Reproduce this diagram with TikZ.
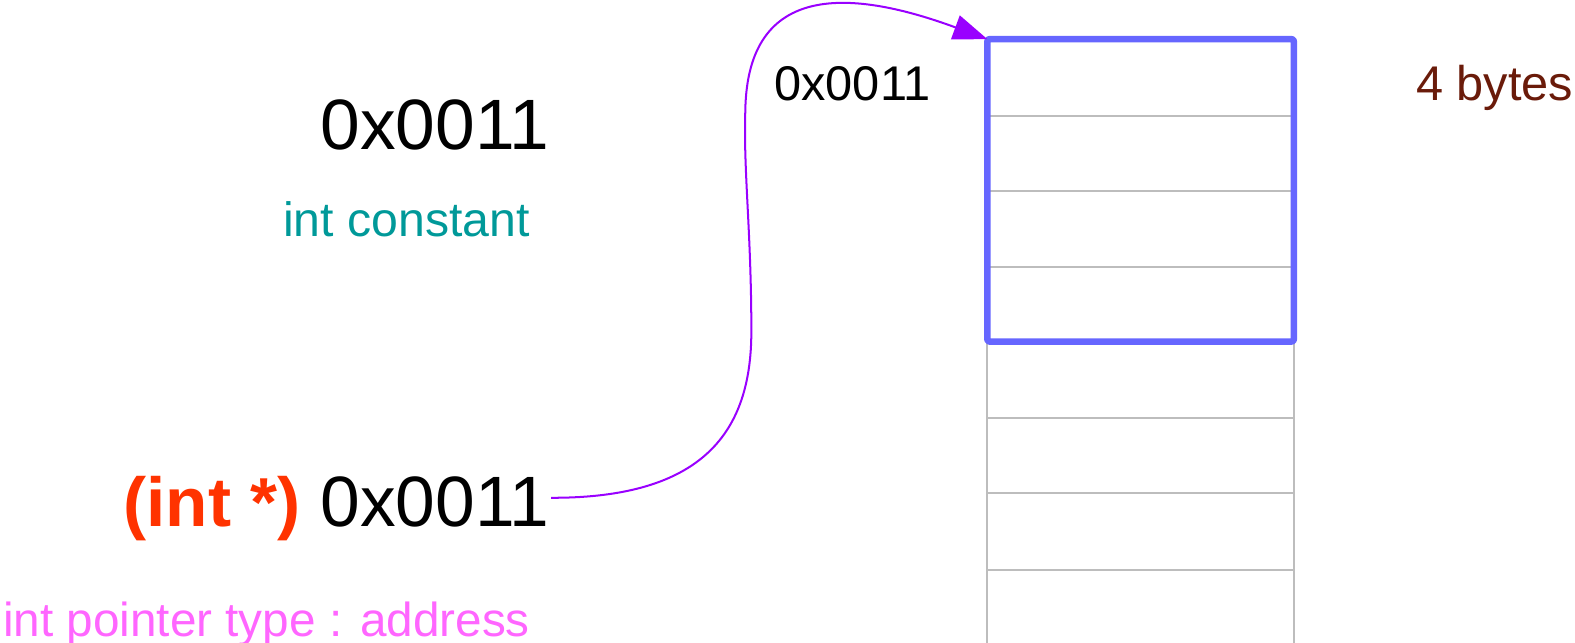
\documentclass[tikz,border=0pt]{standalone}
\usepackage{fontspec}
\setmainfont{Liberation Sans}
\usetikzlibrary{arrows.meta}
\definecolor{castred}{HTML}{FF3300}
\definecolor{tealc}{HTML}{009999}
\definecolor{pinkc}{HTML}{FF66FF}
\definecolor{brownc}{HTML}{6A1B0A}
\definecolor{purplec}{HTML}{9900FF}
\definecolor{bluec}{HTML}{6666FF}
\definecolor{gridc}{HTML}{BDBDBD}
\tikzset{
  txt/.style={inner sep=0pt, outer sep=0pt, anchor=base west},
  big/.style={txt, font=\fontsize{71}{84}\selectfont},
  mid/.style={txt, font=\fontsize{48}{58}\selectfont},
  cell/.style={draw=gridc, line width=2pt},
  ptrarrow/.style={draw=purplec, line width=2pt, -{Triangle[length=34pt,width=25pt]}},
  membox/.style={draw=bluec, line width=6.5pt, line join=round, rounded corners=2pt,
    inner sep=0pt, outer sep=0pt,
    minimum width=305pt, minimum height=301pt, anchor=north west}
}
\begin{document}
\begin{tikzpicture}[x=1pt,y=-1pt]
\useasboundingbox (0,0) rectangle (1568,640);
% lower memory cells
\draw[cell] (983,650) -- (983,341) -- (1288,341) -- (1288,650);
\draw[cell] (983,416) -- (1288,416);
\draw[cell] (983,491) -- (1288,491);
\draw[cell] (983,567) -- (1288,567);
% upper cells (inside the 4-byte block)
\draw[cell] (983,115) -- (1288,115);
\draw[cell] (983,190) -- (1288,190);
\draw[cell] (983,266) -- (1288,266);
% 4-byte block
\node[membox] (mem) at (983,39) {};
% texts
\node[big] (const) at (319,149) {0x0011};
\node[mid, text=tealc] (constlbl) at (282,235) {int constant};
\node[big, text=castred, font=\fontsize{69}{84}\selectfont\bfseries] (cast) at (123,524) {(int *)};
\node[big] (ptrval) at (319,524) {0x0011};
\node[mid, text=pinkc, font=\fontsize{47.5}{58}\selectfont] (ptrlbl) at (3,634) {int pointer type : address};
\node[mid, font=\fontsize{48.5}{58}\selectfont] (addr) at (771,100) {0x0011};
\node[mid, text=brownc, font=\fontsize{48.5}{58}\selectfont] (bytes) at (1410,100) {4 bytes};
% pointer arrow
\draw[ptrarrow] ([xshift=2pt,yshift=4pt]ptrval.east)
  .. controls (700,496) and (748,430) .. (748,330)
  .. controls (748,230) and (740,170) .. (742,110)
  .. controls (744,-20) and (850,-10) .. (mem.north west);
\end{tikzpicture}
\end{document}
